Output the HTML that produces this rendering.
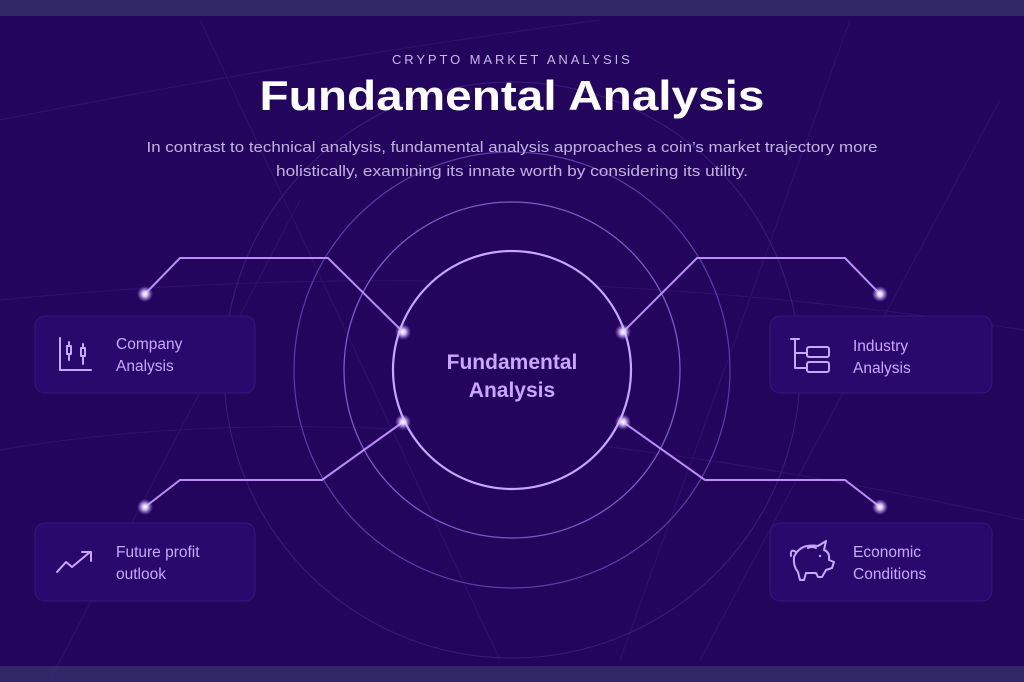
<!DOCTYPE html>
<html><head><meta charset="utf-8"><style>
html,body{margin:0;padding:0;background:#24055e;}
svg{display:block;}
text{font-family:"Liberation Sans",sans-serif;}
</style></head><body>
<svg width="1024" height="682" viewBox="0 0 1024 682" xmlns="http://www.w3.org/2000/svg">
<defs>
<radialGradient id="dot"><stop offset="0" stop-color="#fff"/><stop offset="0.35" stop-color="#e6d4ff" stop-opacity="0.9"/><stop offset="1" stop-color="#b48cff" stop-opacity="0"/></radialGradient>
</defs>
<rect width="1024" height="682" fill="#24055e"/>
<rect width="1024" height="16" fill="#322868"/>
<rect y="666" width="1024" height="16" fill="#322868"/>
<g stroke="#4a2a8a" stroke-width="1" fill="none" opacity="0.3">
<path d="M0 120 Q300 60 600 20"/><path d="M50 680 L300 200"/><path d="M700 660 L1000 100"/><path d="M0 450 Q400 380 1024 520"/><path d="M200 20 L500 660"/><path d="M850 20 L620 660"/><path d="M0 300 Q500 250 1024 330"/>
</g>
<circle cx="512" cy="370" r="288" fill="none" stroke="#3a1d7e" stroke-width="1"/>
<circle cx="512" cy="370" r="218" fill="none" stroke="#5a3ea6" stroke-width="1.2"/>
<circle cx="512" cy="370" r="168" fill="none" stroke="#7a5cc4" stroke-width="1.3"/>
<circle cx="512" cy="370" r="119" fill="#24055e" stroke="#c9a8ff" stroke-width="2.2"/>
<g stroke="#b98ef7" stroke-width="2" fill="none">
<polyline points="145,294 180,258 328,258 403,332"/>
<polyline points="145,507 180,480 322,480 403,422"/>
<polyline points="623,332 697,258 845,258 880,294"/>
<polyline points="623,422 705,480 845,480 880,507"/>
</g>
<g fill="url(#dot)">
<circle cx="145" cy="294" r="8"/><circle cx="145" cy="507" r="8"/><circle cx="880" cy="294" r="8"/><circle cx="880" cy="507" r="8"/>
<circle cx="403" cy="332" r="8"/><circle cx="403" cy="422" r="8"/><circle cx="623" cy="332" r="8"/><circle cx="623" cy="422" r="8"/>
</g>
<g fill="#29096b" stroke="#35187c" stroke-width="1">
<rect x="35" y="316" width="220" height="77" rx="10"/>
<rect x="35" y="523" width="220" height="78" rx="10"/>
<rect x="770" y="316" width="222" height="77" rx="10"/>
<rect x="770" y="523" width="222" height="78" rx="10"/>
</g>
<text x="512" y="64" text-anchor="middle" font-size="13" fill="#c8b8e8" letter-spacing="2.2" textLength="240">CRYPTO MARKET ANALYSIS</text>
<text x="512" y="110" text-anchor="middle" font-size="42" font-weight="bold" fill="#ffffff" textLength="505" lengthAdjust="spacingAndGlyphs">Fundamental Analysis</text>
<text x="512" y="152" text-anchor="middle" font-size="14.5" fill="#c2b2e0" textLength="731" lengthAdjust="spacingAndGlyphs">In contrast to technical analysis, fundamental analysis approaches a coin’s market trajectory more</text>
<text x="512" y="176" text-anchor="middle" font-size="14.5" fill="#c2b2e0" textLength="472" lengthAdjust="spacingAndGlyphs">holistically, examining its innate worth by considering its utility.</text>
<text x="512" y="369" text-anchor="middle" font-size="21" font-weight="bold" fill="#c9a8ff">Fundamental</text>
<text x="512" y="397" text-anchor="middle" font-size="21" font-weight="bold" fill="#c9a8ff">Analysis</text>
<g font-size="15.5" fill="#c9a8ff">
<text x="116" y="349">Company</text><text x="116" y="371">Analysis</text>
<text x="116" y="557">Future profit</text><text x="116" y="579">outlook</text>
<text x="853" y="351">Industry</text><text x="853" y="373">Analysis</text>
<text x="853" y="557">Economic</text><text x="853" y="579">Conditions</text>
</g>
<g stroke="#c9a8ff" stroke-width="2" fill="none" stroke-linecap="round" stroke-linejoin="round">
<path d="M60 338 V370 H91"/>
<rect x="67" y="346" width="4" height="8"/><path d="M69 342 V346 M69 354 V360"/>
<rect x="81" y="348" width="4" height="8"/><path d="M83 344 V348 M83 356 V364"/>
<path d="M57 572 L66 562 L72 567 L90 552 M82 552 H91 V561"/>
<path d="M791 339 H799 M795 339 V368 H807 M795 353 H807"/>
<rect x="807" y="347" width="22" height="10" rx="2"/><rect x="807" y="362" width="22" height="10" rx="2"/>
<path d="M796 552 Q790 548 791 556 M794 557 Q800 543 818 546 L826 541 L824 550 Q830 552 829 560 L834 562 L832 568 L826 570 L822 577 L818 577 L816 573 L806 573 L804 580 L800 580 L798 572 Q793 566 794 557 Z"/>
<path d="M808 548 Q812 546 816 548"/>
</g>
<circle cx="820" cy="556" r="1.2" fill="#c9a8ff"/>
</svg>
</body></html>
